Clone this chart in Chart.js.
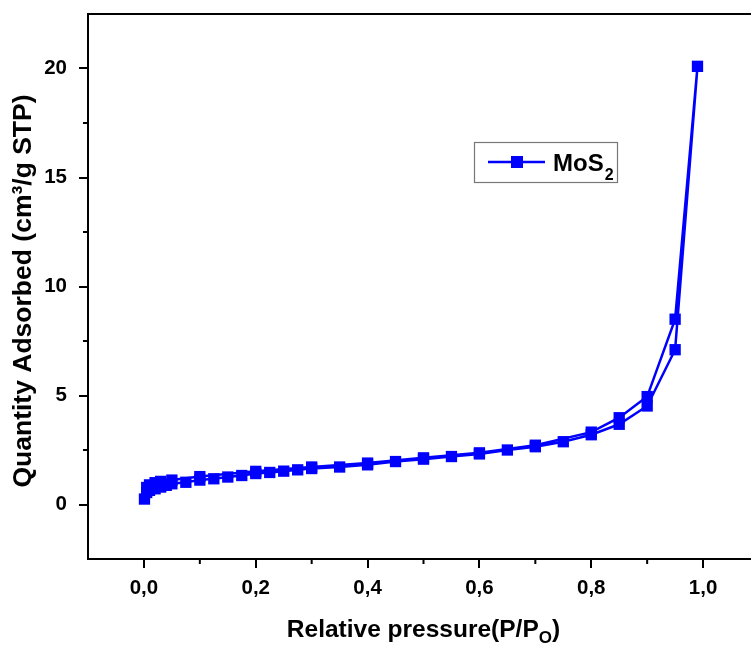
<!DOCTYPE html>
<html>
<head>
<meta charset="utf-8">
<script src="https://cdn.jsdelivr.net/npm/chart.js@4.4.1/dist/chart.umd.min.js"></script>
<style>
  html, body { margin: 0; padding: 0; overflow: hidden; background: #fff; }
  canvas { display: block; }
</style>
</head>
<body>
<canvas id="isothermChart" width="775" height="647"></canvas>
<script>
// adsorption branch
const adsPressure = [0.001, 0.005, 0.01, 0.02, 0.03, 0.04, 0.05, 0.075, 0.1, 0.125, 0.15, 0.175, 0.2, 0.225, 0.25, 0.275, 0.3, 0.35, 0.4, 0.45, 0.5, 0.55, 0.6, 0.65, 0.7, 0.75, 0.8, 0.85, 0.9, 0.95, 0.99];
const adsQuantity = [0.25, 0.55, 0.65, 0.72, 0.8, 0.88, 0.95, 1.02, 1.12, 1.18, 1.26, 1.33, 1.42, 1.47, 1.53, 1.59, 1.65, 1.72, 1.82, 1.97, 2.08, 2.2, 2.32, 2.5, 2.65, 2.88, 3.2, 3.68, 4.52, 7.1, 20.1];
// desorption branch
const desPressure = [0.95, 0.9, 0.85, 0.8, 0.7, 0.6, 0.5, 0.4, 0.3, 0.2, 0.1, 0.05, 0.03, 0.02, 0.01, 0.005];
const desQuantity = [8.5, 4.95, 3.98, 3.32, 2.72, 2.37, 2.14, 1.9, 1.72, 1.52, 1.28, 1.12, 1.06, 1.0, 0.9, 0.78];

const xMajorTicks = [0, 0.2, 0.4, 0.6, 0.8, 1.0];
const xMinorTicks = [0.1, 0.3, 0.5, 0.7, 0.9];
const yMajorTicks = [0, 5, 10, 15, 20];
const yMinorTicks = [2.5, 7.5, 12.5, 17.5];

const seriesLabel = 'MoS2';
const blue = '#0000ff';
const fontFamily = "'Liberation Sans', Arial, sans-serif";

const points = adsPressure.map((p, i) => ({ x: p, y: adsQuantity[i] }))
  .concat(desPressure.map((p, i) => ({ x: p, y: desQuantity[i] })));

// frame, minor ticks, axis titles and legend
const extras = {
  id: 'extras',
  afterDraw(chart) {
    const { ctx, chartArea: a, scales: { x, y } } = chart;
    ctx.save();
    ctx.strokeStyle = '#000';
    ctx.lineWidth = 2;
    ctx.beginPath();
    ctx.moveTo(a.left - 1, a.top);
    ctx.lineTo(a.right, a.top);
    ctx.lineTo(a.right, a.bottom);
    xMinorTicks.forEach(v => {
      const px = x.getPixelForValue(v);
      ctx.moveTo(px, a.bottom);
      ctx.lineTo(px, a.bottom + 5);
    });
    yMinorTicks.forEach(v => {
      const py = y.getPixelForValue(v);
      ctx.moveTo(a.left, py);
      ctx.lineTo(a.left - 5, py);
    });
    ctx.stroke();

    ctx.fillStyle = '#000';
    ctx.textBaseline = 'alphabetic';

    // x title with subscript
    const big = 'bold 24.5px ' + fontFamily;
    const small = 'bold 17px ' + fontFamily;
    const partA = 'Relative pressure(P/P';
    const partB = 'O';
    const partC = ')';
    ctx.font = big;
    const wA = ctx.measureText(partA).width;
    const wC = ctx.measureText(partC).width;
    ctx.font = small;
    const wB = ctx.measureText(partB).width;
    let tx = (a.left + a.right) / 2 - (wA + wB + wC) / 2;
    const ty = 637;
    ctx.font = big;
    ctx.textAlign = 'left';
    ctx.fillText(partA, tx, ty);
    tx += wA;
    ctx.font = small;
    ctx.fillText(partB, tx, ty + 6);
    tx += wB;
    ctx.font = big;
    ctx.fillText(partC, tx, ty);

    // y title
    ctx.save();
    ctx.translate(31, 291);
    ctx.rotate(-Math.PI / 2);
    ctx.font = 'bold 26.5px ' + fontFamily;
    ctx.textAlign = 'center';
    ctx.fillText('Quantity Adsorbed (cm³/g STP)', 0, 0);
    ctx.restore();

    // legend box
    ctx.strokeStyle = '#777';
    ctx.lineWidth = 1.2;
    ctx.strokeRect(474.5, 142.5, 143, 40);
    ctx.strokeStyle = blue;
    ctx.lineWidth = 2.5;
    ctx.beginPath();
    ctx.moveTo(488, 162);
    ctx.lineTo(545, 162);
    ctx.stroke();
    ctx.fillStyle = blue;
    ctx.fillRect(511, 156, 12, 12);
    ctx.fillStyle = '#000';
    ctx.textAlign = 'left';
    ctx.font = 'bold 24px ' + fontFamily;
    ctx.fillText(seriesLabel.slice(0, 3), 553, 171);
    const wm = ctx.measureText(seriesLabel.slice(0, 3)).width;
    ctx.font = 'bold 16px ' + fontFamily;
    ctx.fillText(seriesLabel.slice(3), 553 + wm + 1, 180);
    ctx.restore();
  }
};

const tickFont = { family: fontFamily, size: 20.5, weight: 'bold' };

new Chart(document.getElementById('isothermChart').getContext('2d'), {
  type: 'scatter',
  data: {
    datasets: [{
      label: seriesLabel,
      data: points,
      showLine: true,
      borderColor: blue,
      backgroundColor: blue,
      borderWidth: 2.5,
      pointStyle: 'rect',
      pointRadius: 8,
      pointHoverRadius: 8,
      pointBorderWidth: 0,
      tension: 0
    }]
  },
  options: {
    responsive: false,
    animation: false,
    layout: { padding: { top: 14, right: 16, left: 0, bottom: 0 } },
    plugins: {
      legend: { display: false },
      tooltip: { enabled: false }
    },
    scales: {
      x: {
        type: 'linear',
        min: -0.1,
        max: 1.1,
        afterBuildTicks: scale => { scale.ticks = xMajorTicks.map(v => ({ value: v })); },
        afterFit: scale => {
          scale.height = 88;
          scale.paddingLeft = 0;
          scale.paddingRight = 0;
        },
        border: { display: true, color: '#000', width: 2 },
        grid: { drawOnChartArea: false, drawTicks: true, tickLength: 9, color: '#000', lineWidth: 2 },
        ticks: {
          font: tickFont,
          color: '#000',
          padding: 8,
          maxRotation: 0,
          callback: v => v.toFixed(1).replace('.', ',')
        }
      },
      y: {
        type: 'linear',
        min: -2.5,
        max: 22.5,
        afterBuildTicks: scale => { scale.ticks = yMajorTicks.map(v => ({ value: v })); },
        afterFit: scale => {
          scale.width = 88;
          scale.paddingTop = 0;
          scale.paddingBottom = 0;
        },
        border: { display: true, color: '#000', width: 2 },
        grid: { drawOnChartArea: false, drawTicks: true, tickLength: 9, color: '#000', lineWidth: 2 },
        ticks: {
          font: tickFont,
          color: '#000',
          padding: 12,
          callback: v => String(v)
        }
      }
    }
  },
  plugins: [extras]
});
</script>
</body>
</html>
